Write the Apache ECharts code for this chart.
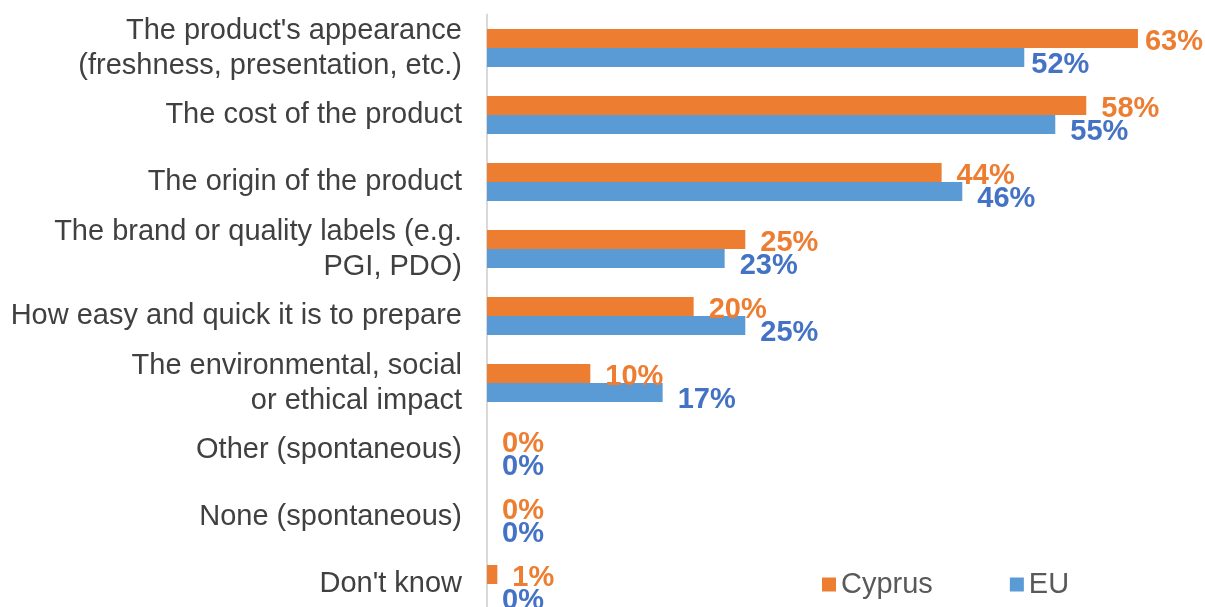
<!DOCTYPE html>
<html>
<head>
<meta charset="utf-8">
<script src="https://cdn.jsdelivr.net/npm/echarts@6/dist/echarts.min.js"></script>
<style>
  html, body { margin: 0; padding: 0; background: #fff; }
  #chart { width: 1205px; height: 607px; }
</style>
</head>
<body>
<div id="chart"></div>
<script>
  // categories from top to bottom
  const categories = [
    "The product's appearance\n(freshness, presentation, etc.)",
    'The cost of the product',
    'The origin of the product',
    'The brand or quality labels (e.g.\nPGI, PDO)',
    'How easy and quick it is to prepare',
    'The environmental, social\nor ethical impact',
    'Other (spontaneous)',
    'None (spontaneous)',
    "Don't know"
  ];
  const cyprus = [63, 58, 44, 25, 20, 10, 0, 0, 1];
  const eu = [52, 55, 46, 23, 25, 17, 0, 0, 0];

  const ORANGE = '#ED7D31';
  const BLUE = '#5B9BD5';
  const BLUE_TXT = '#4472C4';
  const FONT = '"Liberation Sans", Arial, sans-serif';

  // first row sits near the right edge: labels pulled in closer
  function withLabels(values, nearIdx) {
    return values.map((v, i) => i === nearIdx ? {value: v, label: {distance: 7}} : v);
  }

  let chart = echarts.init(document.getElementById('chart'));
  chart.setOption({
    animation: false,
    textStyle: {fontFamily: FONT},
    grid: {left: 487, top: 14.5, width: 671.6, height: 603, outerBoundsMode: 'none', containLabel: false},
    legend: {
      left: 817, top: 565,
      itemWidth: 14, itemHeight: 14, itemGap: 77,
      icon: 'rect',
      textStyle: {fontSize: 29, color: '#595959', fontFamily: FONT},
      data: ['Cyprus', 'EU']
    },
    xAxis: {
      type: 'value', min: 0, max: 65,
      show: false
    },
    yAxis: {
      type: 'category',
      inverse: true,
      data: categories,
      axisLine: {show: true, lineStyle: {color: '#D9D9D9', width: 2}},
      axisTick: {show: false},
      axisLabel: {
        margin: 25, fontSize: 29, lineHeight: 35, color: '#404040',
        align: 'right', fontFamily: FONT
      }
    },
    series: [
      {
        name: 'Cyprus', type: 'bar',
        data: withLabels(cyprus, 0),
        barWidth: 19, barGap: '0%',
        itemStyle: {color: ORANGE},
        label: {
          show: true, position: 'right', distance: 15, offset: [0, 3],
          formatter: '{c}%', color: ORANGE, fontSize: 29, fontWeight: 'bold', fontFamily: FONT
        }
      },
      {
        name: 'EU', type: 'bar',
        data: withLabels(eu, 0),
        barWidth: 19, barGap: '0%',
        itemStyle: {color: BLUE},
        label: {
          show: true, position: 'right', distance: 15, offset: [0, 7],
          formatter: '{c}%', color: BLUE_TXT, fontSize: 29, fontWeight: 'bold', fontFamily: FONT
        }
      }
    ]
  });
</script>
</body>
</html>
